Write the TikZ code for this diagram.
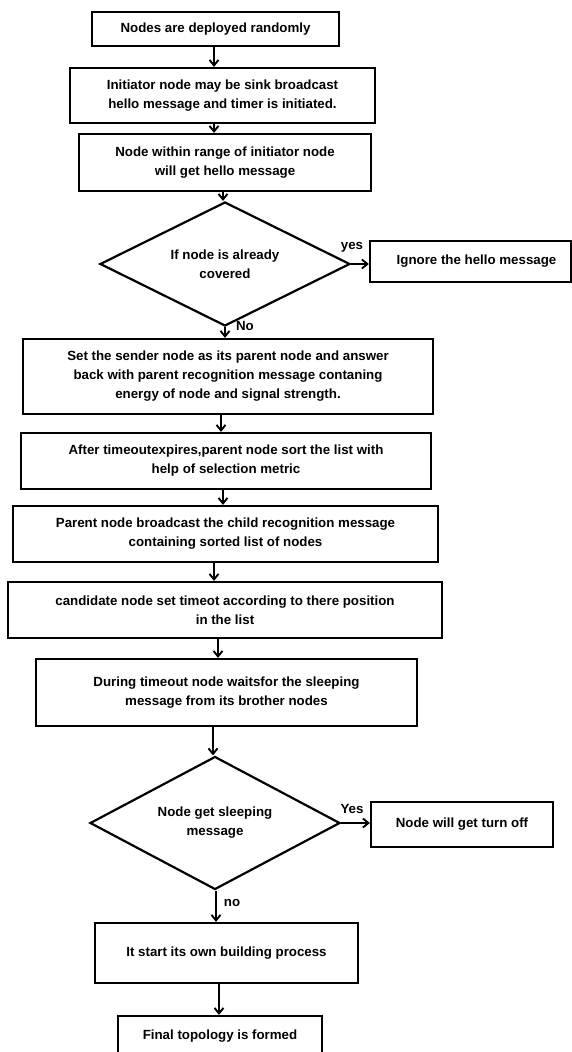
\documentclass[tikz,border=0pt]{standalone}
\usepackage{fontspec}
\setmainfont{Liberation Sans}
\usetikzlibrary{arrows.meta,shapes.geometric,calc}
\begin{document}
\begin{tikzpicture}[x=1pt,y=-1pt,
  txt/.style={font=\bfseries\fontsize{13.3}{19}\selectfont, align=center},
  stepbox/.style={txt, draw, line width=2.2pt, rectangle, inner sep=0pt},
  decision/.style={txt, draw, line width=2.2pt, diamond, aspect=2, inner sep=0pt},
  arr/.style={line width=1.9pt, -{Straight Barb[length=5.5pt,width=9pt,line width=1.9pt]}},
  lbl/.style={txt}
]
\useasboundingbox (0,0) rectangle (572,1052);
\clip (0,0) rectangle (572,1052);

% process boxes and decisions, top to bottom
\node[stepbox, minimum width=247pt, minimum height=34pt] (b1) at (215.5,29) {Nodes are deployed randomly};
\node[stepbox, minimum width=305pt, minimum height=55pt] (b2) at (222.5,95.5) {Initiator node may be sink broadcast\\ hello message and timer is initiated.};
\node[stepbox, minimum width=292pt, minimum height=57pt] (b3) at (225,162.5) {Node within range of initiator node\\will get hello message};
\node[decision, minimum width=250pt, minimum height=124pt] (d1) at (225,264) {If node is already\\covered};
\node[stepbox, minimum width=201pt, minimum height=41pt] (b4) at (470.5,261.5) {\hspace*{12pt}Ignore the hello message};
\node[stepbox, minimum width=410pt, minimum height=75pt] (b5) at (228,376.5) {Set the sender node as its parent node and answer\\back with parent recognition message contaning\\energy of node and signal strength.};
\node[stepbox, minimum width=410pt, minimum height=56pt] (b6) at (226,461) {After timeoutexpires,parent node sort the list with\\help of selection metric};
\node[stepbox, minimum width=425pt, minimum height=56pt] (b7) at (225.5,534) {Parent node broadcast the child recognition message\\containing sorted list of nodes};
\node[stepbox, minimum width=434pt, minimum height=56pt] (b8) at (225,610) {candidate node set timeot according to there position\\in the list};
\node[stepbox, minimum width=381pt, minimum height=67pt] (b9) at (226.5,692.5) {During timeout node waitsfor the sleeping\\message from its brother nodes};
\node[decision, minimum width=250pt, minimum height=133pt] (d2) at (215,823) {Node get sleeping\\message};
\node[stepbox, minimum width=182pt, minimum height=45pt] (b10) at (462,824.5) {Node will get turn off};
\node[stepbox, minimum width=263pt, minimum height=60pt] (b11) at (226.5,953) {It start its own building process};
\node[stepbox, minimum width=204pt, minimum height=40pt] (b12) at (220,1036) {Final topology is formed};

% connectors
\draw[arr] ($(b1.south)+(-1.5,0)$) coordinate (t1) -- (t1 |- b2.north);
\draw[arr] ($(b2.south)+(-8.5,0)$) coordinate (t2) -- (t2 |- b3.north);
\draw[arr] ($(b3.south)+(-2,0)$) coordinate (t3) -- (t3 |- d1.north);
\draw[arr] (d1.east) -- (d1.east -| b4.west);
\draw[arr] (d1.south) -- (d1.south |- b5.north);
\draw[arr] ($(b5.south)+(-7,0)$) coordinate (t5) -- (t5 |- b6.north);
\draw[arr] ($(b6.south)+(-3,0)$) coordinate (t6) -- (t6 |- b7.north);
\draw[arr] ($(b7.south)+(-11.5,0)$) coordinate (t7) -- (t7 |- b8.north);
\draw[arr] ($(b8.south)+(-7,0)$) coordinate (t8) -- (t8 |- b9.north);
\draw[arr] ($(b9.south)+(-13.5,0)$) coordinate (t9) -- (t9 |- d2.north);
\draw[arr] (d2.east) -- (d2.east -| b10.west);
\draw[arr] ($(d2.south)+(1,0)$) coordinate (t10) -- (t10 |- b11.north);
\draw[arr] ($(b11.south)+(-7.5,0)$) coordinate (t11) -- (t11 |- b12.north);

% branch labels
\node[lbl] (ly1) at (352,247) {yes};
\node[lbl] (ln1) at (245,326) {No};
\node[lbl] (ly2) at (352,809) {Yes};
\node[lbl] (ln2) at (232,903) {no};
\end{tikzpicture}
\end{document}
